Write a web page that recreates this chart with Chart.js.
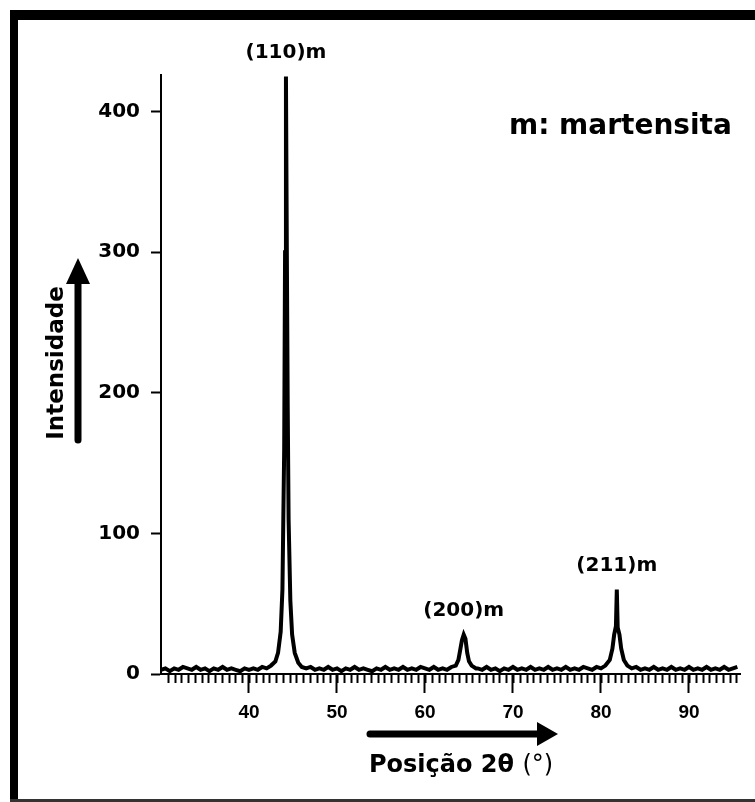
<!DOCTYPE html>
<html>
<head>
<meta charset="utf-8">
<script src="https://cdn.jsdelivr.net/npm/chart.js@4"></script>
<style>
  body { margin: 0; background: #fff; }
  canvas { display: block; }
</style>
</head>
<body>
<canvas id="grafico" width="755" height="802"></canvas>
<script>
// Difratograma - posicoes 2θ (graus) e intensidades
const posicoes = [
  30, 30.5, 31, 31.5, 32, 32.5, 33, 33.5, 34, 34.5, 35, 35.5, 36, 36.5, 37, 37.5,
  38, 38.5, 39, 39.5, 40, 40.5, 41, 41.5, 42, 42.5, 43, 43.3, 43.6, 43.8, 44.0,
  44.1, 44.2, 44.3, 44.4, 44.5, 44.7, 44.9, 45.2, 45.6, 46, 46.5, 47, 47.5, 48,
  48.5, 49, 49.5, 50, 50.5, 51, 51.5, 52, 52.5, 53, 53.5, 54, 54.5, 55, 55.5, 56,
  56.5, 57, 57.5, 58, 58.5, 59, 59.5, 60, 60.5, 61, 61.5, 62, 62.5, 63, 63.5, 63.8,
  64.0, 64.2, 64.4, 64.6, 64.8, 65.0, 65.3, 65.8, 66, 66.5, 67, 67.5, 68, 68.5, 69,
  69.5, 70, 70.5, 71, 71.5, 72, 72.5, 73, 73.5, 74, 74.5, 75, 75.5, 76, 76.5, 77,
  77.5, 78, 78.5, 79, 79.5, 80, 80.5, 81, 81.3, 81.5, 81.7, 81.8, 81.9, 82.1, 82.3,
  82.6, 83, 83.5, 84, 84.5, 85, 85.5, 86, 86.5, 87, 87.5, 88, 88.5, 89, 89.5, 90,
  90.5, 91, 91.5, 92, 92.5, 93, 93.5, 94, 94.5, 95, 95.5
];
const intensidades = [
  3, 4, 2, 4, 3, 5, 4, 3, 5, 3, 4, 2, 4, 3, 5, 3,
  4, 3, 2, 4, 3, 4, 3, 5, 4, 6, 9, 15, 30, 60, 160,
  300, 425, 300, 190, 110, 52, 28, 15, 8, 5, 4, 5, 3, 4,
  3, 5, 3, 4, 2, 4, 3, 5, 3, 4, 3, 2, 4, 3, 5, 3,
  4, 3, 5, 3, 4, 3, 5, 4, 3, 5, 3, 4, 3, 5, 6, 10,
  17, 24, 28, 25, 15, 9, 6, 4, 4, 3, 5, 3, 4, 2, 4,
  3, 5, 3, 4, 3, 5, 3, 4, 3, 5, 3, 4, 3, 5, 3, 4,
  3, 5, 4, 3, 5, 4, 6, 10, 18, 28, 34, 60, 33, 28, 18,
  10, 6, 4, 5, 3, 4, 3, 5, 3, 4, 3, 5, 3, 4, 3, 5,
  3, 4, 3, 5, 3, 4, 3, 5, 3, 4, 5
];

const ticksX = [40, 50, 60, 70, 80, 90];
const ticksY = [0, 100, 200, 300, 400];
const passoMenor = 10 / 13; // ticks pequenos do eixo x

const rotulosPicos = ['(110)m', '(200)m', '(211)m'];
const posPicos = [44.2, 64.4, 81.8];
const alturaPicos = [425, 28, 60];

const pontos = posicoes.map((p, i) => ({ x: p, y: intensidades[i] }));

// desenha moldura, textos e setas
const extras = {
  id: 'extras',
  beforeDraw(chart) {
    const c = chart.ctx;
    c.save();
    c.fillStyle = '#fff';
    c.fillRect(0, 0, chart.width, chart.height);
    c.restore();
  },
  afterDraw(chart) {
    const c = chart.ctx;
    const sx = chart.scales.x;
    const sy = chart.scales.y;
    c.save();

    // moldura
    c.fillStyle = '#000';
    c.fillRect(10, 10, 755, 10);
    c.fillRect(10, 10, 8, 792);
    c.fillStyle = '#333';
    c.fillRect(10, 799, 745, 3);

    // ticks menores do eixo x
    c.strokeStyle = '#000';
    c.lineWidth = 2;
    const base = sy.getPixelForValue(0);
    for (let v = sx.min + passoMenor; v <= sx.max; v += passoMenor) {
      const px = Math.round(sx.getPixelForValue(v)) + 0.5;
      c.beginPath();
      c.moveTo(px, base);
      c.lineTo(px, base + 9);
      c.stroke();
    }

    // rotulos dos picos
    c.fillStyle = '#000';
    c.textAlign = 'center';
    c.textBaseline = 'middle';
    c.font = 'bold 20px "DejaVu Sans"';
    rotulosPicos.forEach((t, i) => {
      const px = sx.getPixelForValue(posPicos[i]);
      const py = sy.getPixelForValue(alturaPicos[i]) - 24;
      c.fillText(t, px, py);
    });

    c.font = 'bold 28px "DejaVu Sans"';
    c.textAlign = 'left';
    c.fillText('m: martensita', 509, 127);

    // titulo do eixo y com seta
    c.save();
    c.translate(57, 363);
    c.rotate(-Math.PI / 2);
    c.textAlign = 'center';
    c.font = 'bold 23px "DejaVu Sans"';
    c.fillText('Intensidade', 0, 0);
    c.restore();

    c.lineCap = 'round';
    c.lineWidth = 7;
    c.beginPath();
    c.moveTo(78, 440);
    c.lineTo(78, 280);
    c.stroke();
    c.beginPath();
    c.moveTo(78, 258);
    c.lineTo(90, 284);
    c.lineTo(66, 284);
    c.closePath();
    c.fill();

    // titulo do eixo x com seta
    c.beginPath();
    c.moveTo(370, 734);
    c.lineTo(540, 734);
    c.stroke();
    c.beginPath();
    c.moveTo(558, 734);
    c.lineTo(537, 722);
    c.lineTo(537, 746);
    c.closePath();
    c.fill();

    c.textAlign = 'left';
    c.font = 'bold 24px "DejaVu Sans"';
    const t1 = 'Posição 2θ ';
    c.fillText(t1, 369, 766);
    const w1 = c.measureText(t1).width;
    c.font = '24px "DejaVu Sans"';
    c.fillText('(°)', 369 + w1, 766);

    c.restore();
  }
};

new Chart(document.getElementById('grafico'), {
  type: 'line',
  data: {
    datasets: [{
      data: pontos,
      borderColor: '#000',
      borderWidth: 4,
      pointRadius: 0,
      tension: 0,
      fill: false
    }]
  },
  options: {
    responsive: false,
    animation: false,
    layout: { padding: { top: 75, right: 15, left: 0, bottom: 0 } },
    plugins: { legend: { display: false }, tooltip: { enabled: false } },
    scales: {
      x: {
        type: 'linear',
        min: 30,
        max: 95.8,
        afterBuildTicks: (s) => { s.ticks = ticksX.map(v => ({ value: v })); },
        afterFit: (s) => { s.height = 128; },
        border: { color: '#000', width: 2 },
        grid: { drawOnChartArea: false, drawTicks: true, tickLength: 19, tickWidth: 2, tickColor: '#000' },
        ticks: { color: '#000', font: { family: 'Liberation Sans', weight: 'bold', size: 19 }, padding: 8 }
      },
      y: {
        min: 0,
        max: 426,
        afterBuildTicks: (s) => { s.ticks = ticksY.map(v => ({ value: v })); },
        afterFit: (s) => { s.width = 161; },
        border: { color: '#000', width: 2 },
        grid: { drawOnChartArea: false, drawTicks: true, tickLength: 10, tickWidth: 2, tickColor: '#000' },
        ticks: { color: '#000', font: { family: 'DejaVu Sans', weight: 'bold', size: 20 }, padding: 11 }
      }
    }
  },
  plugins: [extras]
});
</script>
</body>
</html>
